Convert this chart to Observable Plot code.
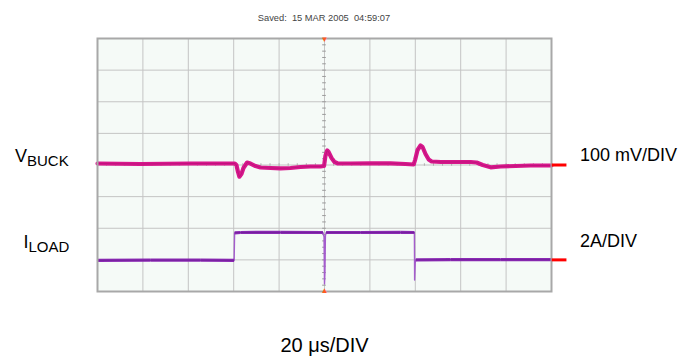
<!DOCTYPE html>
<html>
<head>
<meta charset="utf-8">
<script src="https://cdn.jsdelivr.net/npm/d3@7"></script>
<script src="https://cdn.jsdelivr.net/npm/@observablehq/plot@0.6"></script>
<style>
  html, body { margin: 0; padding: 0; background: #fff; }
  svg { display: block; }
</style>
</head>
<body>
<div id="chart"></div>
<script>
// ---- Data ----
// time axis in microseconds (20 us/div, trigger at 0)
const tV = [-100, -81.1, -59.1, -39.5, -38.8, -38.1, -37.5, -36.6, -35.7, -34.1, -32.6, -30.4, -28.2, -23.8, -19.4, -15.0, -10.6, -6.2, -1.8, -0.2, 0.4, 1.2, 1.8, 3.1, 4.4, 5.7, 11.5, 20.3, 29.1, 35.7, 39.3, 39.9, 41.0, 42.3, 43.2, 44.5, 45.9, 47.2, 51.2, 57.8, 64.4, 67.0, 69.7, 73.2, 77.6, 84.2, 90.8, 100];
// V_BUCK deviation in mV (100 mV/div)
const vBuck = [4.7, 3.2, 4.7, 4.7, 0, -22.2, -37.0, -28.5, -9.5, 7.9, 4.7, -3.2, -7.9, -9.5, -10.4, -9.5, -6.3, -4.7, -4.7, -3.2, 28.5, 45.9, 41.1, 22.2, 9.5, 5.4, 4.7, 5.4, 5.4, 3.2, 1.6, 15.8, 47.5, 61.7, 57.0, 34.8, 17.4, 11.1, 9.5, 9.5, 9.5, 7.9, 0, -7.3, -4.7, -3.2, -1.6, -1.6];
const tI = [-100, -76.7, -54.7, -39.8, -39.6, -37.0, -19.4, -0.7, -0.2, 0, 0.2, 0.4, 0.7, 15.9, 33.5, 39.6, 39.7, 39.96, 40.2, 55.6, 77.6, 100];
// I_LOAD in A (2 A/div)
const iLoad = [-0.03, -0.02, -0.02, -0.03, 1.71, 1.73, 1.74, 1.73, 1.46, -1.52, -0.76, 1.52, 1.73, 1.73, 1.74, 1.73, -1.27, -0.19, 0, 0.01, 0.01, 0.01];

// channel settings (divisions)
const vScale = 100, vOffset = 0;
const iScale = 2, iOffset = -3;

const xTicks = d3.range(-100, 101, 20);
const yTicks = d3.range(-4, 5, 1);
const minorY = d3.range(-40, 41, 2).map(d => d / 10);
const minorX = d3.range(-100, 101, 4);

const vData = tV.map((t, i) => ({t, v: vBuck[i]}));
const iData = tI.map((t, i) => ({t, a: iLoad[i]}));
// flat (settled) pieces of the current trace, drawn thicker than the fast edges
const iFlat = d3.pairs(iData).filter(([p, q]) => Math.abs(q.a - p.a) < 0.1);

const plot = Plot.plot({
  width: 695,
  height: 356,
  marginLeft: 97,
  marginRight: 144,
  marginTop: 38,
  marginBottom: 65,
  x: {domain: [-100, 100], axis: null},
  y: {domain: [-4, 4], axis: null},
  style: {fontFamily: "'Liberation Sans', Arial, sans-serif", background: "#fff"},
  marks: [
    Plot.frame({fill: "#f5faf7", stroke: null}),
    Plot.ruleX(xTicks, {stroke: "#c4c4c4", strokeWidth: 1}),
    Plot.ruleY(yTicks, {stroke: "#c4c4c4", strokeWidth: 1}),
    Plot.ruleY(minorY, {x1: -0.8, x2: 0.8, stroke: "#9a9a9a", strokeWidth: 1}),
    Plot.ruleX(minorX, {y1: -0.04, y2: 0.04, stroke: "#b0b0b0", strokeWidth: 1}),
    // traces
    Plot.line(vData, {x: "t", y: d => vOffset + d.v / vScale, stroke: "#d8178c", strokeWidth: 4.2, curve: "linear"}),
    Plot.line(vData, {x: "t", y: d => vOffset + d.v / vScale, stroke: "#a60f6c", strokeWidth: 1, strokeOpacity: 0.5}),
    Plot.line(iData, {x: "t", y: d => iOffset + d.a / iScale, stroke: "#a45ccc", strokeWidth: 1.4}),
    Plot.link(iFlat, {
      x1: d => d[0].t, y1: d => iOffset + d[0].a / iScale,
      x2: d => d[1].t, y2: d => iOffset + d[1].a / iScale,
      stroke: "#8b2ab4", strokeWidth: 3.2, strokeLinecap: "butt"
    }),
    Plot.link(iFlat, {
      x1: d => d[0].t, y1: d => iOffset + d[0].a / iScale,
      x2: d => d[1].t, y2: d => iOffset + d[1].a / iScale,
      stroke: "#5e1585", strokeWidth: 1, strokeOpacity: 0.5
    }),
    Plot.frame({stroke: "#a8a8a8", strokeWidth: 2}),
    // trigger markers
    Plot.text([0], {x: d => d, y: 4, text: () => "▼", fill: "#ff5a1f", fontSize: 8, dy: 1}),
    Plot.text([0], {x: d => d, y: -4, text: () => "▲", fill: "#ff5a1f", fontSize: 8, dy: -1}),
    // channel reference markers
    Plot.ruleY([vOffset, iOffset], {x1: 100.3, x2: 106.8, stroke: "#ff0000", strokeWidth: 3, clip: false})
  ]
});

document.getElementById("chart").appendChild(plot);

const svg = d3.select(plot);
const ys = plot.scale("y");
const font = "'Liberation Sans', Arial, sans-serif";

svg.append("text")
  .attr("x", 324).attr("y", 21)
  .attr("text-anchor", "middle")
  .attr("font-family", font).attr("font-size", 9.3)
  .attr("fill", "#444")
  .attr("xml:space", "preserve")
  .text("Saved:  15 MAR 2005  04:59:07");

function chanLabel(main, sub, x, yVal, dy) {
  const t = svg.append("text")
    .attr("x", x).attr("y", ys.apply(yVal) + dy)
    .attr("text-anchor", "start")
    .attr("font-family", font).attr("fill", "#000");
  t.append("tspan").attr("font-size", 18).text(main);
  t.append("tspan").attr("font-size", 15).attr("dy", 3.5).text(sub);
}
chanLabel("V", "BUCK", 15, vOffset, -2.5);
chanLabel("I", "LOAD", 23.5, iOffset, -11.3);

function rightLabel(txt, yVal, dy) {
  svg.append("text")
    .attr("x", 580).attr("y", ys.apply(yVal) + dy)
    .attr("text-anchor", "start")
    .attr("font-family", font).attr("font-size", 18).attr("fill", "#000")
    .text(txt);
}
rightLabel("100 mV/DIV", vOffset, -3.3);
rightLabel("2A/DIV", iOffset, -12.8);

svg.append("text")
  .attr("x", 324.5).attr("y", 351.5)
  .attr("text-anchor", "middle")
  .attr("font-family", font).attr("font-size", 20).attr("fill", "#000")
  .text("20 μs/DIV");
</script>
</body>
</html>
